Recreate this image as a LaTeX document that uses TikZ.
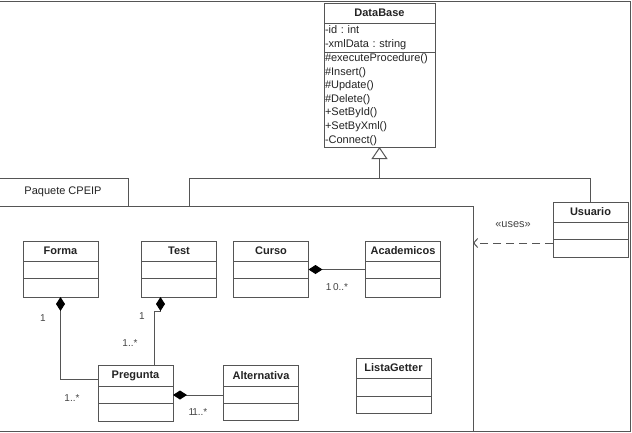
\documentclass[tikz,border=0pt]{standalone}
\usepackage{fontspec}
\setmainfont{Liberation Sans}
\usetikzlibrary{arrows.meta, positioning}
\definecolor{umlgray}{RGB}{85,85,85}
\definecolor{umltext}{RGB}{35,35,35}
\frenchspacing

\begin{document}
\begin{tikzpicture}[
  x=1pt, y=-1pt,
  cname/.style={rectangle, draw=umlgray, line width=1pt, outer sep=0pt, minimum width=75pt, minimum height=20pt, font=\fontsize{11}{13.5}\selectfont\bfseries, text=umltext},
  cpart/.style={rectangle, draw=umlgray, line width=1pt, outer sep=0pt, minimum width=75pt, minimum height=#1, inner sep=0pt},
  cpart/.default=17pt,
  ctext/.style={align=left, text width=109pt, minimum width=111pt, inner xsep=1pt, font=\fontsize{11}{13.6}\selectfont, text=umltext},
  pkgbox/.style={rectangle, draw=umlgray, line width=1pt, outer sep=0pt, font=\fontsize{11}{13.5}\selectfont, text=umltext},
  umlline/.style={draw=umlgray, line width=1pt},
  comp/.style={umlline, {Diamond[length=14pt, width=9pt, fill=black, color=black]}-},
  gen/.style={umlline, -{Triangle[open, length=12pt, width=16pt, fill=white]}},
  uses/.style={umlline, dash pattern=on 8pt off 5pt, -{Straight Barb[length=4pt, width=9pt]}},
  mult/.style={font=\fontsize{10}{12}\selectfont, text=umltext!85, inner sep=1pt}
]
  \useasboundingbox (0,0) rectangle (632,432);

  % frame
  \draw[umlline] (-2,1) rectangle (630,431);

  % Paquete CPEIP
  \node[pkgbox, minimum width=130pt, minimum height=28pt] (pkgtab) at (63,192) {Paquete CPEIP};
  \node[pkgbox, minimum width=475pt, minimum height=225pt] (pkg) at (235.5,318.5) {};

  % DataBase
  \node[cname, minimum width=111pt] (dbN) at (379.5,13) {DataBase};
  \node[cpart=29pt, ctext, below=0pt of dbN] (dbA) {-id : int\\-xmlData : string};
  \node[cpart=95pt, ctext, below=0pt of dbA] (dbO) {\#executeProcedure()\\\#Insert()\\\#Update()\\\#Delete()\\+SetById()\\+SetByXml()\\-Connect()};

  % Usuario
  \node[cname] (usuarioN) at (590.5,212) {Usuario};
  \node[cpart, below=0pt of usuarioN] (usuarioA) {};
  \node[cpart=18pt, below=0pt of usuarioA] (usuarioO) {};

  % classes of the package
  \node[cname] (formaN) at (60.5,251) {Forma};
  \node[cpart, below=0pt of formaN] (formaA) {};
  \node[cpart=19pt, below=0pt of formaA] (formaO) {};

  \node[cname] (testN) at (179,251) {Test};
  \node[cpart, below=0pt of testN] (testA) {};
  \node[cpart=19pt, below=0pt of testA] (testO) {};

  \node[cname] (cursoN) at (271,251) {Curso};
  \node[cpart, below=0pt of cursoN] (cursoA) {};
  \node[cpart=19pt, below=0pt of cursoA] (cursoO) {};

  \node[cname] (academicosN) at (403,251) {Academicos};
  \node[cpart, below=0pt of academicosN] (academicosA) {};
  \node[cpart=19pt, below=0pt of academicosA] (academicosO) {};

  \node[cname, minimum height=21pt] (preguntaN) at (135.5,376) {Pregunta};
  \node[cpart, below=0pt of preguntaN] (preguntaA) {};
  \node[cpart=18pt, below=0pt of preguntaA] (preguntaO) {};

  \node[cname, minimum height=21pt] (alternativaN) at (261,376) {Alternativa};
  \node[cpart, below=0pt of alternativaN] (alternativaA) {};
  \node[cpart, below=0pt of alternativaA] (alternativaO) {};

  \node[cname] (listagetterN) at (393.5,368) {ListaGetter};
  \node[cpart=18pt, below=0pt of listagetterN] (listagetterA) {};
  \node[cpart, below=0pt of listagetterA] (listagetterO) {};

  % generalization
  \coordinate (genj) at (379.5,178);
  \draw[umlline] ([xshift=191pt]pkg.north west) |- (genj);
  \draw[umlline] (usuarioN.north) |- (genj);
  \draw[gen] (genj) -- (dbO.south);

  % uses
  \coordinate (usesstart) at ([yshift=-4pt]usuarioO.north west);
  \draw[uses] (usesstart) -- (usesstart -| pkg.east) node[midway, above=14pt, mult, font=\fontsize{11}{13}\selectfont] {«uses»};

  % compositions
  \draw[comp] (formaO.south) |- ([yshift=-3pt]preguntaN.west);
  \draw[comp] ([xshift=-18.5pt]testO.south) -- ++(0,14) -| ([xshift=18.5pt]preguntaN.north);
  \draw[comp] (cursoA.east) -- (academicosA.west);
  \draw[comp] (preguntaA.east) -- (alternativaA.west);

  % multiplicities
  \node[mult] (mFormaOne) at (43,318) {1};
  \node[mult] (mFormaMany) at (72,398) {1..*};
  \node[mult] (mTestOne) at (142,316) {1};
  \node[mult] (mTestMany) at (130,343) {1..*};
  \node[mult] (mCurso) at (337,287) {1\,0..*};
  \node[mult] (mAlt) at (198,412) {1\kern-2pt1..*};
\end{tikzpicture}
\end{document}
